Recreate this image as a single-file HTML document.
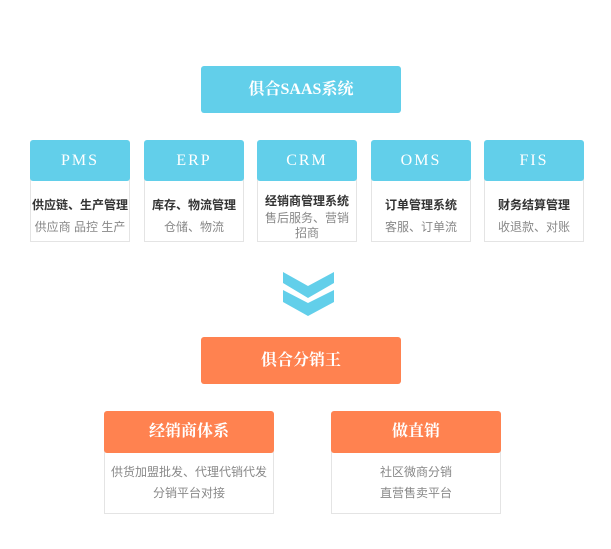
<!DOCTYPE html>
<html><head><meta charset="utf-8"><style>
body{margin:0;width:611px;height:549px;background:#fff;position:relative;font-family:"Liberation Sans","Noto Sans CJK SC",sans-serif;overflow:hidden}
.b{position:absolute;color:#fff;text-align:center;font-family:"Liberation Serif","Noto Serif CJK SC",serif;font-weight:bold;border-radius:3px}
.blue{background:#62cfea}.org{background:#ff8250}
.m{font-size:16px;font-weight:normal;letter-spacing:2px;height:41px;line-height:41px;width:100px;top:140px}
.card{position:absolute;border:1px solid #e4e4e4;border-top:none;box-sizing:border-box;text-align:center}
.t{font-size:12px;font-weight:bold;color:#333}
.s{font-size:12px;color:#888}
</style></head><body>
<div class="b blue" style="left:201px;top:66px;width:200px;height:47px;line-height:47px;font-size:16px">俱合SAAS系统</div>

<div class="card" style="left:30px;top:170px;width:100px;height:72px"><div class="t" style="margin-top:26px">供应链、生产管理</div><div class="s" style="margin-top:5px">供应商 品控 生产</div></div>
<div class="b blue m" style="left:30px">PMS</div>
<div class="card" style="left:144px;top:170px;width:100px;height:72px"><div class="t" style="margin-top:26px">库存、物流管理</div><div class="s" style="margin-top:5px">仓储、物流</div></div>
<div class="b blue m" style="left:144px">ERP</div>
<div class="card" style="left:257px;top:170px;width:100px;height:72px"><div class="t" style="margin-top:22px">经销商管理系统</div><div class="s" style="line-height:15px;margin-top:2px">售后服务、营销<br>招商</div></div>
<div class="b blue m" style="left:257px">CRM</div>
<div class="card" style="left:371px;top:170px;width:100px;height:72px"><div class="t" style="margin-top:26px">订单管理系统</div><div class="s" style="margin-top:5px">客服、订单流</div></div>
<div class="b blue m" style="left:371px">OMS</div>
<div class="card" style="left:484px;top:170px;width:100px;height:72px"><div class="t" style="margin-top:26px">财务结算管理</div><div class="s" style="margin-top:5px">收退款、对账</div></div>
<div class="b blue m" style="left:484px">FIS</div>

<svg style="position:absolute;left:0;top:0" width="611" height="549">
<polygon fill="#62cfea" points="283,272 308,286 334,272 334,283 308,298 283,283"/>
<polygon fill="#62cfea" points="283,290 308,303 334,290 334,302 308,316 283,302"/>
</svg>

<div class="b org" style="left:201px;top:337px;width:200px;height:47px;line-height:47px;font-size:16px">俱合分销王</div>

<div class="card" style="left:104px;top:440px;width:170px;height:74px"><div class="s" style="margin-top:22px;line-height:21px">供货加盟批发、代理代销代发<br>分销平台对接</div></div>
<div class="b org" style="left:104px;top:411px;width:170px;height:42px;line-height:42px;font-size:16px">经销商体系</div>
<div class="card" style="left:331px;top:440px;width:170px;height:74px"><div class="s" style="margin-top:22px;line-height:21px">社区微商分销<br>直营售卖平台</div></div>
<div class="b org" style="left:331px;top:411px;width:170px;height:42px;line-height:42px;font-size:16px">做直销</div>
</body></html>
